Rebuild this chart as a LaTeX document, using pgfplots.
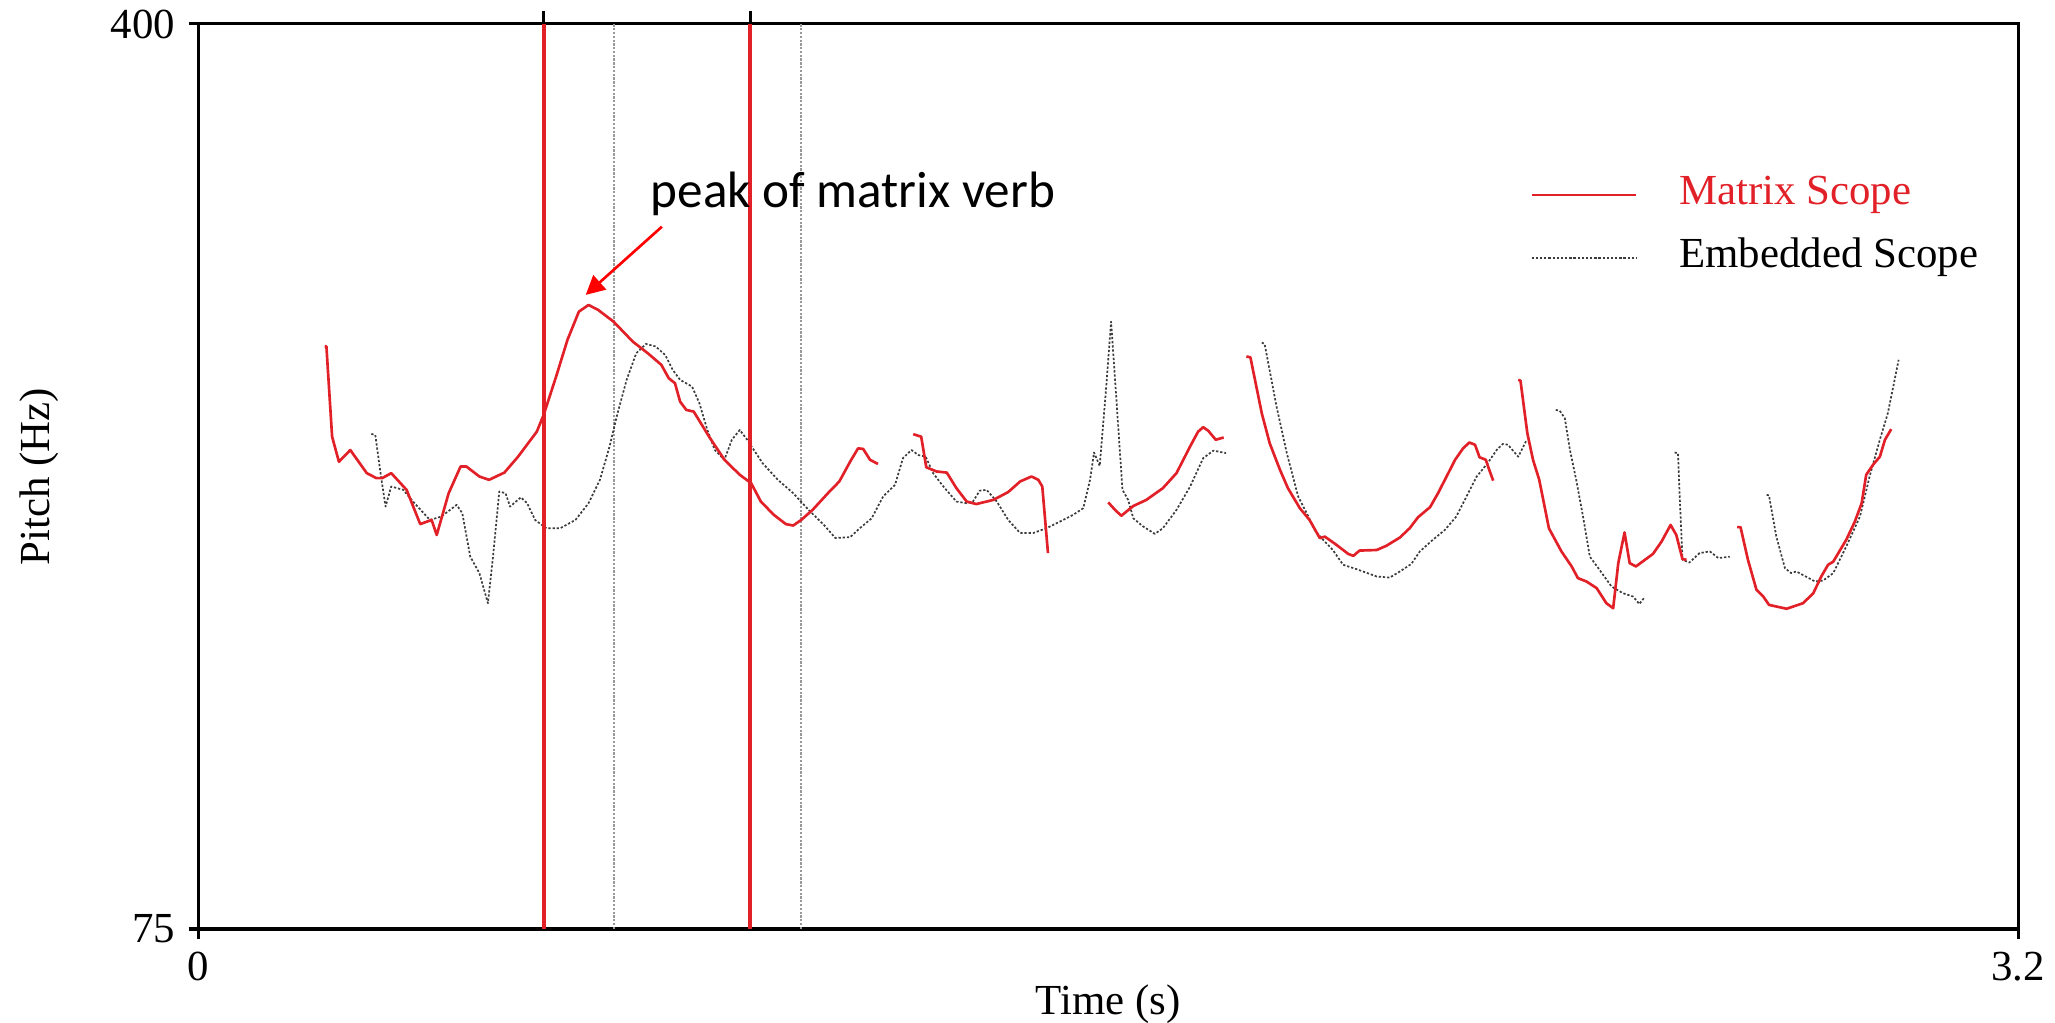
\documentclass[border=0pt]{standalone}
\usepackage{fontspec}
\setmainfont{Liberation Serif}
\newfontfamily\calibri{Carlito}
\usepackage{pgfplots}
\pgfplotsset{compat=1.18}
\usetikzlibrary{arrows.meta}

\definecolor{praatred}{RGB}{226,32,40}
\definecolor{dotgray}{RGB}{60,60,60}
\newcommand{\lblfont}{\fontsize{11.3}{13.6}\selectfont}

\pgfplotsset{
  matrix/.style={praatred, line width=0.7pt, line join=round},
  embedded/.style={dotgray, line width=0.45pt, dash pattern=on 0.6pt off 0.5pt, line join=round},
}

\begin{document}
\begin{tikzpicture}
\begin{axis}[
  name=main,
  scale only axis,
  width=479.9pt, height=238.7pt,
  xmin=0, xmax=3.2, ymin=75, ymax=400,
  xtick={0,3.2}, xticklabels={0,3.2},
  ytick={75,400}, yticklabels={75,400},
  tick pos=left,
  tick align=outside,
  major tick length=2.6pt,
  axis line style={line width=0.8pt},
  every tick/.style={black, line width=0.8pt},
  ticklabel style={font=\lblfont},
  xlabel={Time (s)},
  ylabel={Pitch (Hz)},
  xlabel style={font=\lblfont, at={(axis description cs:0.5,-0.083)}, anchor=center},
  ylabel style={font=\lblfont, at={(axis description cs:-0.0875,0.5)}, anchor=center},
  clip=false,
  legend cell align=left,
  legend style={draw=none, fill=none, inner sep=0pt, outer sep=0pt,
    at={(axis description cs:0.732,0.833)}, anchor=north west,
    font=\lblfont, row sep=6.2pt,
    nodes={inner sep=0pt, text height=7.8pt, text depth=2.6pt}},
  legend image code/.code={\draw[#1] (0pt,0pt) -- (27.6pt,0pt); \path (38.6pt,0pt);},
]
\addlegendimage{matrix}
\addlegendentry{\textcolor{praatred}{Matrix Scope}}
\addlegendimage{embedded}
\addlegendentry{Embedded Scope}

% grey boundaries (embedded scope)
\addplot[forget plot, gray!80, line width=0.45pt, dash pattern=on 0.6pt off 0.4pt] coordinates {(0.731,75) (0.731,400)};
\addplot[forget plot, gray!80, line width=0.45pt, dash pattern=on 0.6pt off 0.4pt] coordinates {(1.060,75) (1.060,400)};

% embedded scope contour
\addplot[forget plot, embedded] coordinates {
(0.304,252.8)(0.311,252.4)(0.321,237.5)(0.329,226.7)(0.339,233.9)(0.360,232.7)(0.380,227.9)(0.407,221.9)(0.427,223.1)(0.454,227.3)(0.464,224.3)(0.478,208.7)(0.494,202.8)(0.509,192.0)(0.518,208.7)(0.529,232.1)(0.540,231.5)(0.548,226.7)(0.567,230.0)(0.578,227.9)(0.592,221.9)(0.612,218.9)(0.636,218.9)(0.663,221.9)(0.686,227.9)(0.706,236.3)(0.723,248.3)(0.737,260.2)(0.753,272.2)(0.770,281.8)(0.787,285.1)(0.804,284.2)(0.821,281.1)(0.834,275.8)(0.847,272.2)(0.868,269.8)(0.881,263.8)(0.895,254.2)(0.908,247.0)(0.925,243.5)(0.938,250.7)(0.952,254.2)(0.965,250.7)(0.992,242.3)(1.019,236.3)(1.046,231.5)(1.073,225.5)(1.100,220.1)(1.120,215.4)(1.146,215.7)(1.163,218.9)(1.184,222.5)(1.204,230.3)(1.225,234.5)(1.239,244.1)(1.254,247.0)(1.266,245.2)(1.279,244.6)(1.292,238.7)(1.310,233.9)(1.333,228.5)(1.351,227.9)(1.362,228.5)(1.374,232.4)(1.386,232.7)(1.404,228.5)(1.424,221.9)(1.445,217.2)(1.468,217.2)(1.491,218.9)(1.515,221.3)(1.538,223.7)(1.556,226.1)(1.568,236.3)(1.575,246.1)(1.585,241.3)(1.596,268.6)(1.605,293.1)(1.612,272.2)(1.625,232.7)(1.635,229.1)(1.644,222.5)(1.661,219.6)(1.682,216.9)(1.696,218.9)(1.720,225.5)(1.744,233.9)(1.767,244.1)(1.785,246.8)(1.807,245.9)
};
\addplot[forget plot, embedded] coordinates {
(1.870,285.6)(1.875,285.1)(1.896,262.6)(1.914,245.9)(1.934,230.3)(1.952,223.1)(1.963,218.3)(1.975,215.4)(1.995,211.1)(2.013,205.8)(2.037,204.2)(2.072,201.6)(2.095,201.2)(2.113,203.4)(2.133,206.1)(2.148,210.6)(2.171,214.8)(2.192,218.3)(2.212,223.1)(2.230,230.3)(2.248,237.5)(2.268,242.5)(2.283,247.0)(2.294,249.2)(2.303,248.9)(2.321,244.6)(2.336,250.7)
};
\addplot[forget plot, embedded] coordinates {
(2.387,261.4)(2.394,261.1)(2.403,258.4)(2.412,247.0)(2.423,236.3)(2.435,223.1)(2.447,208.7)(2.464,204.0)(2.485,198.0)(2.505,195.6)(2.523,194.4)(2.534,191.7)(2.542,193.8)
};
\addplot[forget plot, embedded] coordinates {
(2.596,246.1)(2.602,245.9)(2.605,230.3)(2.610,207.6)(2.622,206.6)(2.640,210.0)(2.658,210.6)(2.673,208.2)(2.693,208.7)
};
\addplot[forget plot, embedded] coordinates {
(2.758,230.9)(2.762,230.7)(2.775,215.9)(2.790,204.6)(2.801,202.8)(2.810,203.4)(2.843,199.8)(2.857,200.1)(2.875,202.8)(2.898,212.4)(2.922,223.1)(2.939,237.5)(2.957,250.7)(2.971,260.2)(2.983,272.2)(2.990,279.4)
};

% matrix scope contour
\addplot[forget plot, matrix] coordinates {
(0.222,284.3)(0.225,284.2)(0.235,251.8)(0.247,242.8)(0.267,247.0)(0.296,238.7)(0.313,236.9)(0.323,236.9)(0.339,238.7)(0.366,232.7)(0.390,220.4)(0.410,221.9)(0.419,216.5)(0.440,231.5)(0.461,241.1)(0.471,241.1)(0.494,237.5)(0.511,236.3)(0.538,238.9)(0.562,244.6)(0.595,253.6)(0.607,259.6)(0.629,273.4)(0.649,286.6)(0.669,296.7)(0.686,299.1)(0.703,297.3)(0.730,293.1)(0.764,285.9)(0.790,281.8)(0.814,277.6)(0.827,272.8)(0.838,271.0)(0.847,264.4)(0.858,261.4)(0.871,260.8)(0.898,251.8)(0.925,243.5)(0.952,238.1)(0.972,235.1)(0.989,228.5)(1.012,223.7)(1.033,220.4)(1.046,219.9)(1.060,221.9)(1.080,225.5)(1.107,231.5)(1.127,235.7)(1.146,242.8)(1.160,247.6)(1.169,247.4)(1.181,243.5)(1.195,242.0)
};
\addplot[forget plot, matrix] coordinates {
(1.257,252.7)(1.271,251.8)(1.280,240.8)(1.298,239.3)(1.316,238.9)(1.333,233.3)(1.351,228.5)(1.368,227.6)(1.398,229.1)(1.424,231.9)(1.445,235.7)(1.465,237.5)(1.477,236.3)(1.484,233.9)(1.494,210.0)
};
\addplot[forget plot, matrix] coordinates {
(1.600,228.2)(1.612,225.5)(1.623,223.4)(1.644,226.9)(1.667,229.1)(1.696,233.3)(1.720,238.7)(1.744,248.3)(1.758,253.6)(1.767,255.2)(1.776,253.9)(1.789,250.7)(1.803,251.5)
};
\addplot[forget plot, matrix] coordinates {
(1.843,280.6)(1.850,280.3)(1.870,260.2)(1.884,249.4)(1.902,239.9)(1.916,233.3)(1.937,226.1)(1.954,221.9)(1.972,215.4)(1.981,215.9)(2.001,213.0)(2.022,209.7)(2.031,209.0)(2.042,210.9)(2.072,211.1)(2.089,212.6)(2.113,215.6)(2.130,218.9)(2.145,222.9)(2.166,226.5)(2.180,231.5)(2.195,237.5)(2.210,243.5)(2.224,247.6)(2.235,249.7)(2.245,248.9)(2.253,244.4)(2.264,243.5)(2.270,239.9)(2.277,236.0)
};
\addplot[forget plot, matrix] coordinates {
(2.321,272.2)(2.325,271.9)(2.337,253.1)(2.347,243.5)(2.358,236.3)(2.375,218.9)(2.397,210.6)(2.415,205.2)(2.426,201.0)(2.441,199.8)(2.459,197.4)(2.476,192.0)(2.488,190.2)(2.497,206.4)(2.508,217.4)(2.517,206.4)(2.528,205.2)(2.558,209.7)(2.573,214.1)(2.589,220.1)(2.599,216.5)(2.610,207.8)(2.617,207.6)
};
\addplot[forget plot, matrix] coordinates {
(2.706,219.3)(2.712,219.3)(2.725,207.6)(2.740,196.8)(2.752,194.4)(2.762,191.4)(2.793,190.0)(2.822,192.0)(2.840,195.6)(2.854,201.6)(2.866,205.8)(2.875,206.9)(2.898,214.8)(2.913,221.3)(2.925,227.9)(2.933,238.1)(2.945,241.7)(2.957,244.6)(2.966,250.7)(2.977,254.5)
};

% red boundaries (matrix scope)
\addplot[forget plot, praatred, line width=1pt] coordinates {(0.607,75) (0.607,400)};
\addplot[forget plot, praatred, line width=1pt] coordinates {(0.970,75) (0.970,400)};

% annotation
\draw[red, line width=0.7pt, -{Triangle[length=5pt, width=5pt]}]
  (axis cs:0.815,327.2) -- (axis cs:0.681,302.7);
\node[font=\calibri\fontsize{13.5}{16}\selectfont, anchor=center]
  at (axis cs:1.151,339.0) {peak of matrix verb};
\end{axis}

% small upward marks above the top frame
\begin{axis}[
  scale only axis,
  width=479.9pt, height=238.7pt,
  xmin=0, xmax=3.2, ymin=75, ymax=400,
  hide y axis,
  axis x line*=top,
  axis line style={draw=none},
  xtick={0.607,0.970}, xticklabels={},
  tick align=outside,
  major tick length=3.5pt,
  every tick/.style={black, line width=0.8pt},
]
\end{axis}

\pgfresetboundingbox
\path ([xshift=-52.35pt,yshift=-24.53pt]main.south west) rectangle ([xshift=9.76pt,yshift=6.33pt]main.north east);
\end{tikzpicture}
\end{document}
